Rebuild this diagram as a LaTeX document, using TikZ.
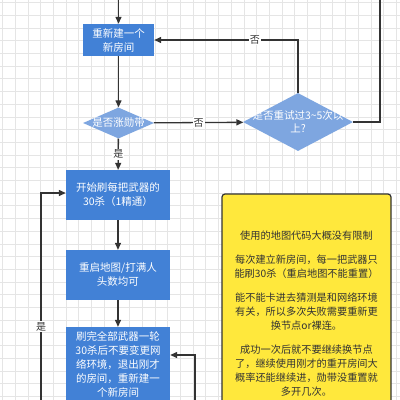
\documentclass[tikz,border=0pt]{standalone}
\usepackage{fontspec}
\usepackage{xcolor}
\usepackage{tikz}
\usetikzlibrary{arrows.meta, positioning, shapes.geometric, calc}
\newfontfamily\cjk{Noto Sans CJK SC}
\definecolor{boxblue}{HTML}{4281D6}
\definecolor{diablue}{HTML}{7EA6E0}
\definecolor{noteyellow}{HTML}{FFE83C}
\definecolor{linegray}{HTML}{333333}

\begin{document}
\begin{tikzpicture}[
    x=1pt, y=-1pt,
    proc/.style={rectangle, fill=boxblue, text=white, inner sep=0pt, align=center, font=\cjk\fontsize{10.5}{14}\selectfont},
    dec/.style={diamond, fill=diablue, inner sep=0pt},
    dectext/.style={text=white, align=center, font=\cjk\fontsize{10.5}{13}\selectfont},
    lbl/.style={fill=white, text=linegray, inner sep=1pt, font=\cjk\fontsize{10}{12}\selectfont},
    arrow/.style={-{Triangle[length=7pt, width=6pt]}, draw=linegray, line width=1.3pt},
    line/.style={draw=linegray, line width=1.3pt},
    gridline/.style={draw=black!10, line width=0.6pt}
]
\useasboundingbox (0,0) rectangle (400,400);
\clip (0,0) rectangle (400,400);
\fill[white] (0,0) rectangle (400,400);
\foreach \i in {0,...,31} {
  \draw[gridline] ({2.5+12.7*\i},0) -- ({2.5+12.7*\i},400);
  \draw[gridline] (0,{2.5+12.7*\i}) -- (400,{2.5+12.7*\i});
}

% flow boxes
\node[proc, minimum width=71pt, minimum height=32pt] (renew) at (118.5,40) {重新建一个\\新房间};
\node[dec, minimum width=71pt, minimum height=31pt] (ribbon) at (118.5,123) {};
\node[dectext] at (ribbon) {是否涨勋带};
\node[dec, minimum width=110pt, minimum height=58pt] (retry) at (298,122) {};
\node[dectext] at (retry) {是否重试过3\textasciitilde 5次以\\上?};
\node[proc, minimum width=104pt, minimum height=50pt] (start) at (118,195) {开始刷每把武器的\\30杀（1精通）};
\node[proc, minimum width=104pt, minimum height=50pt] (restart) at (118,275) {重启地图/打满人\\头数均可};
\node[proc, minimum width=104pt, minimum height=74pt] (leave) at (118,364) {刷完全部武器一轮\\30杀后不要变更网\\络环境，退出刚才\\的房间，重新建一\\个新房间};

% note
\draw[line, fill=noteyellow, line width=1.2pt, rounded corners=3pt] (222,194) rectangle (391,412);
\node[anchor=north, text=linegray, align=center, inner sep=0pt, font=\cjk\fontsize{10.2}{14}\selectfont] (note) at (306.5,231)
  {使用的地图代码大概没有限制\\[10pt]
   每次建立新房间，每一把武器只\\能刷30杀（重启地图不能重置）\\[10pt]
   能不能卡进去猜测是和网络环境\\有关，所以多次失败需要重新更\\换节点or裸连。\\[10pt]
   成功一次后就不要继续换节点\\了，继续使用刚才的重开房间大\\概率还能继续进，勋带没重置就\\多开几次。};

% connectors
\coordinate (topin) at (118.5,-2);
\coordinate (rtop) at (380,-2);
\coordinate (lbot) at (41,402);
\coordinate (rbot) at (195,402);
\draw[arrow] (topin) -- (renew);
\draw[arrow] (renew) -- (ribbon);
\draw[arrow] (ribbon) -- node[lbl] {否} (retry);
\draw[arrow] (retry.north) |- node[lbl, pos=0.65] {否} (renew.east);
\draw[line] (retry.east) -| (rtop);
\draw[arrow] (ribbon) -- node[lbl] {是} (start);
\draw[arrow] (start) -- (restart);
\draw[arrow] (restart) -- (leave);
\draw[arrow] (lbot) |- node[lbl, pos=0.18] {是} ([yshift=2pt]start.west);
\draw[arrow] (rbot) |- ([yshift=9pt]leave.east);
\end{tikzpicture}
\end{document}
